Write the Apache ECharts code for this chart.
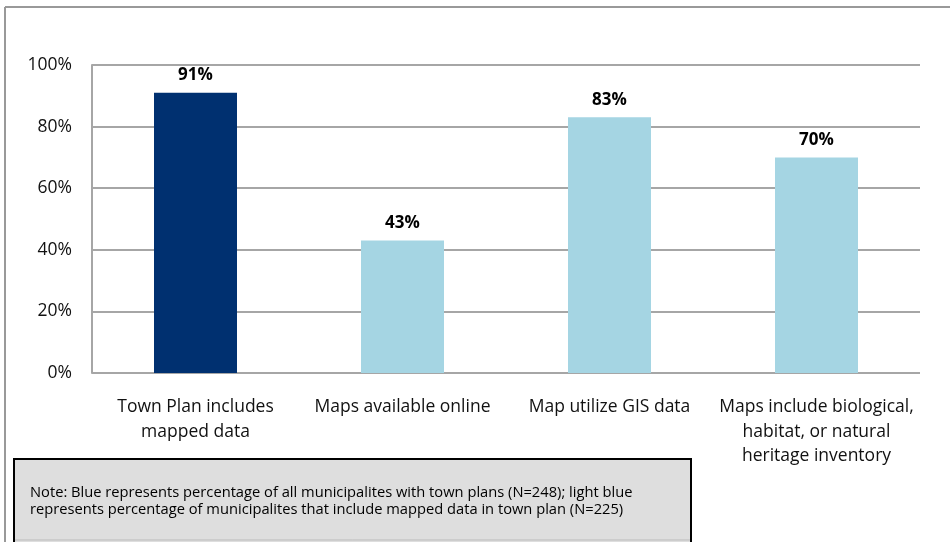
<!DOCTYPE html>
<html>
<head>
<meta charset="utf-8">
<script src="https://cdn.jsdelivr.net/npm/echarts@6/dist/echarts.min.js"></script>
<style>
  html, body { margin: 0; padding: 0; background: #fff; }
  #chart { width: 950px; height: 542px; }
</style>
</head>
<body>
<div id="chart"></div>
<script>
const categories = [
  'Town Plan includes\nmapped data',
  'Maps available online',
  'Map utilize GIS data',
  'Maps include biological,\nhabitat, or natural\nheritage inventory'
]
const values = [91, 43, 83, 70]
const barColors = ['#003070', '#a5d5e3', '#a5d5e3', '#a5d5e3']
const yTicks = [0, 20, 40, 60, 80, 100]
const noteText = 'Note: Blue represents percentage of all municipalites with town plans (N=248); light blue\nrepresents percentage of municipalites that include mapped data in town plan (N=225)'

const font = '"Open Sans", Lato, sans-serif'
const chart = echarts.init(document.getElementById('chart'))

const option = {
  animation: false,
  grid: { left: 92, right: 30, top: 65, bottom: 169 },
  xAxis: {
    type: 'category',
    data: categories,
    axisTick: { show: false },
    axisLine: { show: false },
    axisLabel: {
      color: '#111',
      fontFamily: font,
      fontSize: 17.5,
      lineHeight: 24.5,
      margin: 22,
      interval: 0
    }
  },
  yAxis: {
    type: 'value',
    min: yTicks[0],
    max: yTicks[yTicks.length - 1],
    interval: 20,
    axisLine: { show: true, lineStyle: { color: '#a6a6a6', width: 2 } },
    axisTick: { show: false },
    splitLine: { lineStyle: { color: '#a6a6a6', width: 2 } },
    axisLabel: {
      formatter: '{value}%',
      color: '#111',
      fontFamily: font,
      fontSize: 17.5,
      margin: 20
    }
  },
  series: [{
    type: 'bar',
    barWidth: 83,
    data: values.map((v, i) => ({ value: v, itemStyle: { color: barColors[i] } })),
    label: {
      show: true,
      position: 'top',
      distance: 9,
      formatter: '{c}%',
      color: '#000',
      fontFamily: font,
      fontWeight: 'bold',
      fontSize: 17
    }
  }],
  graphic: [
    { type: 'line', shape: { x1: 5, y1: 7, x2: 950, y2: 7 }, style: { stroke: '#999', lineWidth: 2 } },
    { type: 'line', shape: { x1: 5, y1: 7, x2: 5, y2: 542 }, style: { stroke: '#999', lineWidth: 2 } },
    {
      type: 'rect',
      shape: { x: 14, y: 459, width: 677, height: 90 },
      style: { fill: '#dedede', stroke: '#000', lineWidth: 2 }
    },
    { type: 'line', shape: { x1: 15, y1: 540, x2: 690, y2: 540 }, style: { stroke: '#bbb', lineWidth: 1 } },
    {
      type: 'text',
      x: 30, y: 484,
      style: {
        text: noteText,
        fill: '#000',
        font: '14.7px ' + font,
        lineHeight: 17
      }
    }
  ]
}

chart.setOption(option)
</script>
</body>
</html>
